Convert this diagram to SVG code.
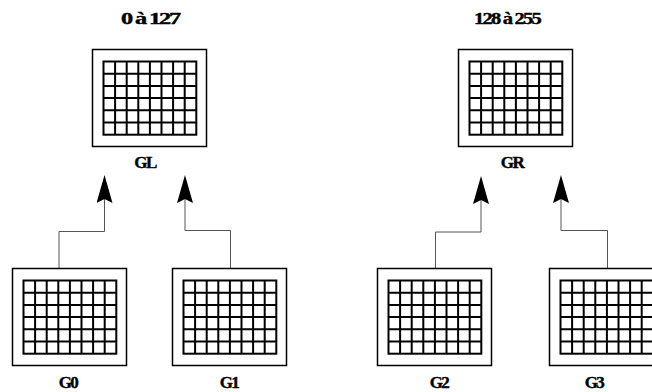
<svg xmlns="http://www.w3.org/2000/svg" xmlns:xlink="http://www.w3.org/1999/xlink" width="652" height="392" viewBox="0 0 652 392">
<style>
.frame{fill:#fff;stroke:#000;stroke-width:1.5}
.grid{fill:none;stroke:#000;stroke-width:2}
.lbl{font-family:"Liberation Serif","Times New Roman",serif;font-weight:bold;font-size:17px;fill:#000;stroke:#000;stroke-width:0.4;text-anchor:middle;letter-spacing:-1.5px}
.conn{fill:none;stroke:#555;stroke-width:1}
</style>
<defs>
<marker id="arr" markerUnits="userSpaceOnUse" viewBox="0 0 28 16" refX="4" refY="8" markerWidth="28" markerHeight="16" orient="auto">
<path d="M0,0 L28,8 L0,16 L4,8 Z" fill="#000"/>
</marker>
<g id="screen">
<rect class="frame" x="0" y="0" width="114" height="97"/>
<rect class="grid" x="11" y="12" width="92.8" height="73.2"/>
<path class="grid" d="M22.6,12V85.2M34.2,12V85.2M45.8,12V85.2M57.4,12V85.2M69,12V85.2M80.6,12V85.2M92.2,12V85.2M11,24.2H103.8M11,36.4H103.8M11,48.6H103.8M11,60.8H103.8M11,73H103.8"/>
</g>
</defs>
<g id="connectors">
<path class="conn" d="M59,268.5V231.5H104.5V199" marker-end="url(#arr)"/>
<path class="conn" d="M230.5,268.5V230.5H185V199" marker-end="url(#arr)"/>
<path class="conn" d="M435.5,268.5V232H481V200" marker-end="url(#arr)"/>
<path class="conn" d="M607.5,268.5V230.5H561V199" marker-end="url(#arr)"/>
</g>
<g id="GL">
<text class="lbl" x="150" y="24" textLength="58" lengthAdjust="spacingAndGlyphs">0 à 127</text>
<use xlink:href="#screen" x="92.5" y="49.5"/>
<text class="lbl" x="145" y="168">GL</text>
</g>
<g id="GR">
<text class="lbl" x="507" y="24" textLength="66" lengthAdjust="spacingAndGlyphs">128 à 255</text>
<use xlink:href="#screen" x="458.5" y="49.5"/>
<text class="lbl" x="512" y="168">GR</text>
</g>
<g id="G0">
<use xlink:href="#screen" x="12.5" y="268.5"/>
<text class="lbl" x="68" y="388">G0</text>
</g>
<g id="G1">
<use xlink:href="#screen" x="172.5" y="268.5"/>
<text class="lbl" x="229" y="388">G1</text>
</g>
<g id="G2">
<use xlink:href="#screen" x="377.5" y="268.5"/>
<text class="lbl" x="439" y="388">G2</text>
</g>
<g id="G3">
<use xlink:href="#screen" x="549.5" y="268.5"/>
<text class="lbl" x="594" y="388">G3</text>
</g>
</svg>
